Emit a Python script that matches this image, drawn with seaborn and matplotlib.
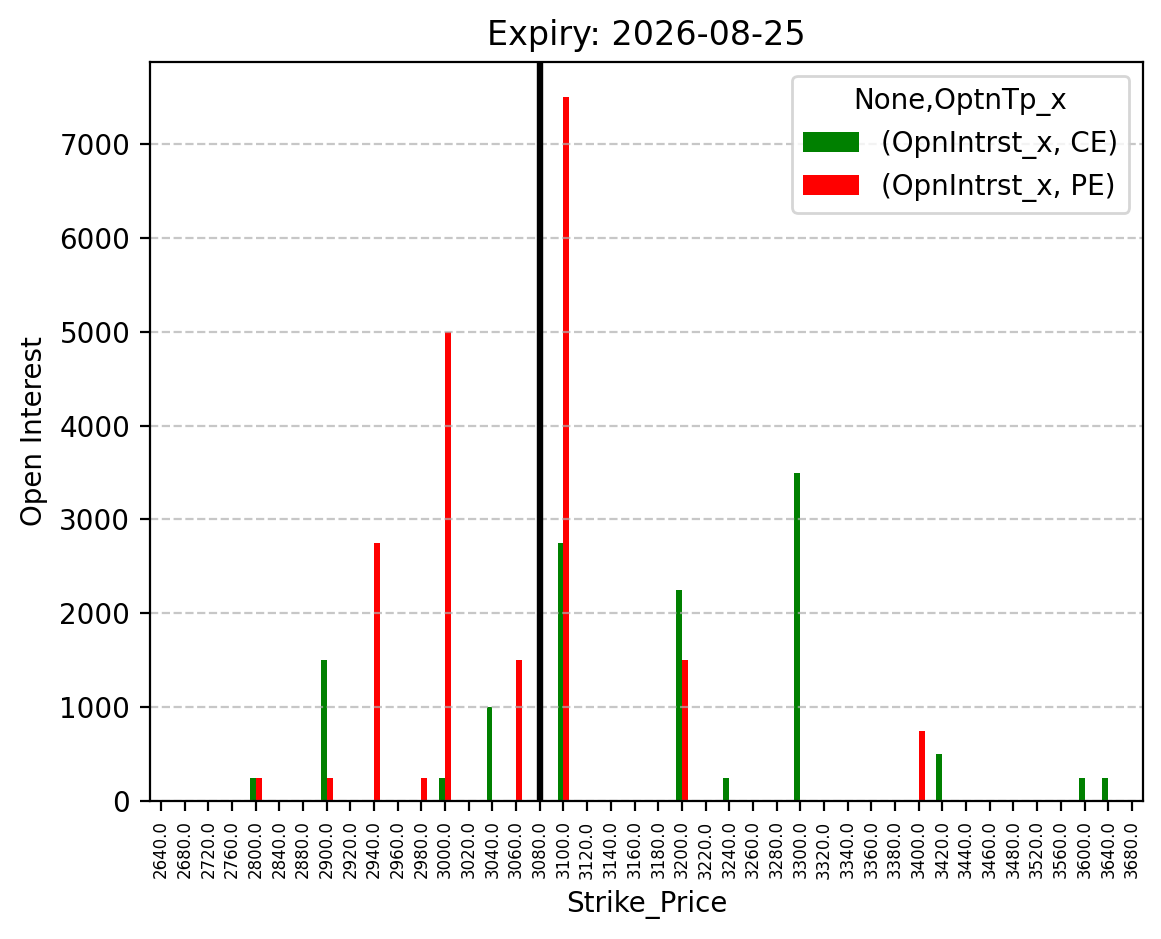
import pandas as pd
import matplotlib
matplotlib.use("Agg")
import matplotlib.pyplot as plt
import seaborn as sns

# 차트 데이터
strikes = [2640, 2680, 2720, 2760, 2800, 2840, 2880, 2900, 2920, 2940, 2960, 2980,
           3000, 3020, 3040, 3060, 3080, 3100, 3120, 3140, 3160, 3180, 3200, 3220,
           3240, 3260, 3280, 3300, 3320, 3340, 3360, 3380, 3400, 3420, 3440, 3460,
           3480, 3520, 3560, 3600, 3640, 3680]
ce_strikes = [2800, 2900, 3000, 3040, 3100, 3200, 3240, 3300, 3420, 3600, 3640]
ce_oi = [250, 1500, 250, 1000, 2750, 2250, 250, 3500, 500, 250, 250]
pe_strikes = [2800, 2900, 2940, 2980, 3000, 3060, 3100, 3200, 3400]
pe_oi = [250, 250, 2750, 250, 5000, 1500, 7500, 1500, 750]
spot_strike = 3080
expiry = "2026-08-25"

ce = pd.Series(ce_oi, index=ce_strikes).reindex(strikes, fill_value=0)
pe = pd.Series(pe_oi, index=pe_strikes).reindex(strikes, fill_value=0)
labels = [f"{float(s):.1f}" for s in strikes]

df = pd.concat([
    pd.DataFrame({'Strike_Price': labels, 'OI': ce.values, 'Type': '(OpnIntrst_x, CE)'}),
    pd.DataFrame({'Strike_Price': labels, 'OI': pe.values, 'Type': '(OpnIntrst_x, PE)'}),
], ignore_index=True)

fig, ax = plt.subplots(figsize=(5.805, 4.695), dpi=200)
fig.subplots_adjust(left=0.129, right=0.9845, top=0.934, bottom=0.147)

sns.barplot(data=df, x='Strike_Price', y='OI', hue='Type', order=labels,
            palette={'(OpnIntrst_x, CE)': 'green', '(OpnIntrst_x, PE)': 'red'},
            width=0.5, saturation=1, linewidth=0, ax=ax)

ax.axvline(labels.index(f"{float(spot_strike):.1f}"), color='black', linewidth=2.3)

ax.set_xlim(-0.47, len(strikes) - 0.53)
ax.set_ylim(0, max(pe_oi + ce_oi) * 1.05)
ax.set_title(f"Expiry: {expiry}", fontsize=12)
ax.set_xlabel('Strike_Price', fontsize=10)
ax.set_ylabel('Open Interest', fontsize=10)
ax.tick_params(axis='x', labelsize=6, rotation=90)
ax.tick_params(axis='y', labelsize=10)
ax.grid(axis='y', linestyle='--', alpha=0.7)
ax.legend(title='None,OptnTp_x', loc='upper right')

plt.savefig('out.png', dpi=200)
plt.close()
